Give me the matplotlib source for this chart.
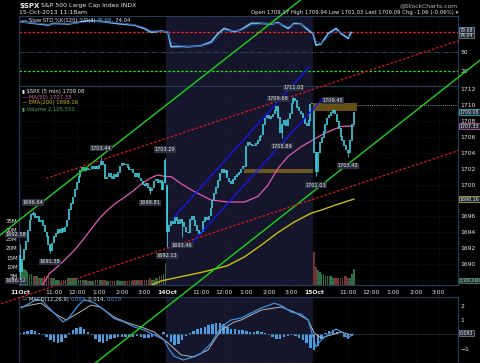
import numpy as np
import matplotlib
matplotlib.use("Agg")
import matplotlib.pyplot as plt
from matplotlib.patches import Rectangle

# ---- 5-min closes: 11 Oct, 14 Oct, 15 Oct (to 11:18am) ----
close_11 = [1689.0, 1690.5, 1691.8, 1692.8, 1694.2, 1695.5, 1696.2, 1696.4, 1695.8, 1695.9,
            1695.3, 1695.5, 1694.8, 1694.0, 1693.4, 1692.4, 1691.7, 1692.6, 1693.4, 1693.8,
            1694.3, 1693.9, 1694.4, 1694.0, 1694.6, 1695.5, 1696.8, 1697.6, 1698.4, 1699.3,
            1700.2, 1701.0, 1701.8, 1702.1, 1701.7, 1702.0, 1701.8, 1701.9, 1702.2, 1701.9,
            1702.3, 1702.0, 1702.4, 1702.9, 1702.5, 1700.7, 1700.9, 1701.4, 1701.0, 1700.7,
            1701.2, 1701.0, 1701.5, 1702.3, 1702.6, 1702.4, 1702.5, 1702.1, 1701.8, 1701.9,
            1701.4, 1701.0, 1701.4, 1700.8, 1700.4, 1700.0, 1699.8, 1700.1, 1699.6, 1699.2,
            1699.5, 1700.4, 1700.6, 1700.2, 1700.5, 1699.3, 1700.2, 1703.0]
close_14 = [1694.0, 1694.8, 1695.3, 1695.0, 1695.8, 1695.4, 1695.0, 1695.6, 1695.2, 1694.6,
            1694.0, 1693.9, 1695.6, 1695.9, 1695.5, 1694.8, 1694.2, 1693.8, 1694.0, 1695.3,
            1695.8, 1695.6, 1696.0, 1697.0, 1698.0, 1698.8, 1699.6, 1700.5, 1701.4, 1701.9,
            1701.5, 1701.8, 1700.8, 1700.3, 1700.1, 1700.6, 1701.0, 1701.2, 1701.5, 1701.9,
            1702.3, 1702.2, 1704.8, 1705.3, 1705.0, 1704.8, 1704.9, 1705.1, 1705.5, 1706.0,
            1706.2, 1707.5, 1708.3, 1708.6, 1708.2, 1708.5, 1708.8, 1709.3, 1709.8, 1708.4,
            1706.5, 1707.5, 1708.0, 1707.3, 1708.2, 1708.9, 1710.2, 1710.8, 1710.5, 1709.6,
            1709.2, 1708.9, 1708.3, 1707.6, 1707.4, 1708.0, 1710.1, 1710.15]
close_15 = [1704.0, 1701.6, 1704.0, 1705.2, 1705.9, 1706.6, 1707.5, 1708.3, 1708.6, 1709.0,
            1709.3, 1708.8, 1707.9, 1707.0, 1706.0, 1705.5, 1704.9, 1704.3, 1703.9, 1705.5,
            1707.5, 1709.08]
day_open = [1691.1, 1699.86, 1709.17]

volume_m = [20, 12, 9, 8, 7, 6, 6, 5, 5, 5, 4, 4, 4, 5, 5, 5, 4, 4, 4, 3, 3, 3, 3, 3, 3, 4,
            4, 4, 4, 4, 4, 3, 3, 3, 3, 3, 2, 2, 2, 2, 3, 3, 3, 3, 3, 3, 2, 2, 2, 2, 2, 2,
            3, 2, 2, 2, 2, 2, 2, 2, 3, 3, 3, 3, 3, 3, 3, 3, 3, 4, 3, 3, 4, 4, 5, 5, 6, 12,
            16, 10, 8, 7, 6, 6, 5, 5, 5, 4, 4, 4, 4, 4, 4, 4, 3, 3, 3, 3, 3, 3, 3, 3, 3, 3,
            3, 3, 3, 3, 3, 3, 3, 2, 2, 2, 2, 2, 2, 2, 2, 2, 3, 3, 3, 3, 3, 3, 3, 3, 3, 3,
            3, 3, 3, 3, 3, 3, 3, 4, 4, 4, 3, 3, 3, 3, 3, 3, 3, 4, 4, 4, 4, 5, 6, 7, 10, 14,
            18, 10, 8, 7, 6, 6, 5, 5, 5, 5, 4, 4, 4, 4, 4, 4, 5, 5, 4, 4, 6, 9]

# labelled extremes: (bar, price, above?)
ext_bar = [0, 0, 7, 16, 43, 69, 77, 78, 86, 137, 145, 139, 157, 166, 174]
ext_px = [1692.58, 1686.52, 1696.64, 1691.38, 1703.44, 1698.81, 1703.29, 1692.13, 1693.46,
          1709.68, 1711.03, 1705.89, 1701.03, 1709.45, 1703.43]
ext_up = [True, False, True, False, True, False, True, False, False,
          True, True, False, False, True, False]

ma50_bar = [12, 15.5, 20, 24.4, 29, 33.2, 38, 42.1, 46.5, 51, 56, 60.5, 65, 69, 73, 77,
            80.1, 85.4, 92.5, 101.3, 110.2, 119, 126.1, 131.4, 136.7, 142, 149.1, 155.3,
            159.7, 163.2, 170.3, 175.6, 177]
ma50_val = [1687.4, 1688.8, 1689.7, 1690.7, 1691.8, 1693.0, 1694.5, 1695.75, 1696.8, 1697.7,
            1698.5, 1699.3, 1700.2, 1700.8, 1701.2, 1701.0, 1701.0, 1700.1, 1699.1, 1698.05,
            1697.8, 1697.8, 1698.5, 1699.9, 1702.0, 1703.5, 1704.75, 1705.6, 1706.2, 1706.6,
            1707.3, 1707.35, 1707.33]
ema200_bar = [70, 75, 85, 97, 110, 119, 128, 137, 145.5, 154.4, 160, 167, 177]
ema200_val = [1687.4, 1687.9, 1688.4, 1689.0, 1689.8, 1690.9, 1692.4, 1694.0, 1695.3, 1696.4,
              1696.8, 1697.4, 1698.16]

sto_bar = [0.5, 7.4, 14.9, 18, 25.5, 36.1, 43, 53.6, 60.5, 65.8, 69.5, 74.8, 78.5, 80.1, 85.4,
           89.1, 96, 101.3, 105, 108.2, 113.5, 117.2, 122.5, 127.9, 133.2, 136.9, 142.2,
           145.4, 149.1, 152.8, 155.4, 157, 159.7, 163.4, 167.6, 170.3, 174, 175.6]
sto_k = [96.6, 94, 91.4, 94, 93, 98, 97, 93, 91.4, 86, 80, 82, 80, 57.5, 58, 57.5, 59, 65,
         78, 86, 81, 84, 94, 94, 93, 95, 86, 94, 93, 83.6, 78, 60, 62, 78, 86, 78, 70.6, 79.7]
sto_d = [96.0, 94.5, 92.5, 93.0, 93.5, 96.5, 97.0, 94.5, 92.0, 88.0, 82.5, 81.5, 80.5, 65.0,
         59.0, 58.0, 58.5, 62.0, 72.0, 82.0, 82.5, 83.0, 90.0, 93.5, 93.5, 94.0, 89.0, 92.0,
         93.0, 86.5, 80.0, 67.0, 62.5, 72.0, 82.0, 80.0, 73.0, 74.0]

macd_bar = [0.5, 8.5, 11.1, 16.4, 22.8, 25.5, 30.8, 33.9, 39.2, 44.6, 49.9, 55.2, 60.5, 65.8,
            71.1, 76.4, 78.5, 81.7, 86.5, 90.7, 96, 101.3, 106.6, 111.9, 117.2, 127.9, 134.8,
            138.5, 143.8, 149.1, 152.8, 155.4, 157, 159.7, 163.4, 167.6, 171.4, 174, 176.6]
macd_val = [1.83, 2.4, 2.4, 1.7, 0.86, 1.1, 2.0, 2.4, 2.2, 1.7, 1.1, 0.86, 0.52, 0.31, -0.03,
            -0.38, -0.9, -1.5, -1.76, -1.6, -1.3, -0.6, 0.52, 1.0, 1.14, 1.83, 2.16, 2.0, 1.55,
            1.4, 1.0, -0.17, -0.86, -0.38, 0.0, 0.38, 0.1, -0.24, 0.03]
sig_bar = [0.5, 11.1, 18, 24.4, 30.8, 37.7, 42.4, 49.9, 57.3, 64.2, 71.1, 78.5, 85.4, 92.3,
           99.7, 106.6, 113.5, 117.2, 127.9, 138.5, 145.4, 152.8, 156, 159.7, 165, 170.3, 175.6]
sig_val = [1.9, 2.17, 1.48, 1.0, 1.48, 2.03, 1.9, 1.2, 0.79, 0.52, 0.17, -0.59, -1.41, -1.55,
           -1.07, 0.31, 0.86, 1.0, 1.69, 1.9, 1.55, 1.0, 0.1, -0.24, -0.03, 0.17, -0.03]
hist_val = [0.10, 0.15, 0.22, 0.28, 0.25, 0.12, -0.05, -0.20, -0.38, -0.52, -0.60, -0.50, -0.25,
            0.10, 0.30, 0.45, 0.50, 0.40, 0.20, -0.05, -0.30, -0.55, -0.60, -0.45, -0.30, -0.25,
            -0.20, -0.15, -0.18, -0.20, -0.15, -0.12, -0.20, -0.25, -0.25, -0.15, -0.10, 0.05,
            0.20, -0.20, -0.50, -0.70, -0.65, -0.40, -0.10, 0.10, 0.25, 0.35, 0.45, 0.55, 0.65,
            0.75, 0.80, 0.80, 0.70, 0.55, 0.40, 0.35, 0.30, 0.30, 0.25, 0.20, 0.20, 0.25, 0.20,
            0.10, -0.05, -0.20, -0.30, -0.30, -0.20, -0.10, -0.05, -0.10, -0.25, -0.40, -0.60,
            -0.90, -1.10, -0.80, -0.30, 0.10, 0.25, 0.30, 0.20, 0.05, -0.20, -0.30, -0.10]

# hand-drawn trendlines: (bar0, price0, bar1, price1)
green_hi = (-12, 1693.4, 165, 1726.2)
green_lo = (38, 1677.2, 246, 1716.0)
red_hi = (13.8, 1700.76, 232.9, 1718.1)
red_lo = (-10.1, 1685.0, 232.9, 1704.3)
blue_hi = (81.7, 1695.92, 153.3, 1714.76)
blue_lo = (89.7, 1692.28, 160.6, 1710.83)
zones = [(118.8, 155.4, 1701.45, 1701.95), (155.4, 178.5, 1709.2, 1710.2)]

hour_lbl = ["11:00", "12:00", "1:00", "2:00", "3:00"]
day_lbl = ["11Oct", "14Oct", "15Oct"]

BG = "#000000"
SHADE = "#15152b"
TXT = "#e8e8e8"
SPINE = "#233a5a"
CYAN = "#3ccfe0"

closes = np.array(close_11 + close_14 + close_15)
n = len(closes)
bars = np.arange(n)
opens = np.r_[closes[0], closes[:-1]]
opens[[0, 78, 156]] = day_open
W, H = 480, 363


def rect(x0, y0, x1, y1):
    return [x0 / W, 1 - y1 / H, (x1 - x0) / W, (y1 - y0) / H]


def side_box(a, v, t, ec, fs=3.4):
    a.text(1.004, v, t, transform=a.get_yaxis_transform(), color=TXT, fontsize=fs,
           va="center", ha="left", zorder=7,
           bbox=dict(boxstyle="square,pad=0.1", fc="#20283a", ec=ec, lw=0.5))


def chain_text(a, x, y, parts, fs=3.8):
    # coloured pieces written one after another on a line
    prev = a.text(x, y, parts[0][0], color=parts[0][1], fontsize=fs, transform=a.transAxes,
                  va="top")
    for t, c in parts[1:]:
        prev = a.annotate(t, xy=(1, 0), xycoords=prev, va="bottom", color=c, fontsize=fs)


fig = plt.figure(figsize=(4.8, 3.63), dpi=100, facecolor=BG)
ax_sto = fig.add_axes(rect(19, 16, 458, 86))
ax = fig.add_axes(rect(19, 86, 458, 285))
ax_macd = fig.add_axes(rect(19, 297, 458, 363))
vol = ax.twinx()
ax_sto.set_zorder(1)
ax_macd.set_zorder(1)
vol.set_zorder(2)
ax.set_zorder(3)

XL = (-0.6, 232.3)
tick_pos = []
for d in range(3):
    tick_pos += [78 * d] + [78 * d + h for h in (18, 30, 42, 54, 66)]

for a in (ax_sto, ax, ax_macd, vol):
    a.set_facecolor("none")
    a.set_xlim(*XL)
    for s in a.spines.values():
        s.set_color(SPINE)
        s.set_linewidth(0.8)
    a.tick_params(colors=TXT, labelsize=4.3, length=0, pad=2)
for a in (ax_sto, ax, ax_macd):
    a.axvspan(77.5, 155.5, color=SHADE, zorder=0, lw=0)
    for t in tick_pos:
        a.axvline(t, color="#2c2c3c", lw=0.4, ls=(0, (1, 2)), zorder=0.5)
    a.yaxis.tick_right()
    a.set_xticks([])

# ---- STO panel ----
ax_sto.set_ylim(-3.9, 105.5)
ax_sto.axhline(80, color="#ff2020", lw=0.9, ls=(0, (2, 1.5)))
ax_sto.axhline(50, color="#34486a", lw=0.6, ls="-.")
ax_sto.axhline(20, color="#22e022", lw=0.9, ls=(0, (2, 1.5)))
ax_sto.plot(sto_bar, sto_k, color="#6bb6e8", lw=1.3)
ax_sto.plot(sto_bar, sto_d, color="#1d3f86", lw=0.6)
ax_sto.set_yticks([20, 50])
chain_text(ax_sto, 0.006, 0.97, [("\u2014 Slow STO %K(120) %D(3) ", TXT),
                                 ("79.68", "#6bb6e8"), (", 74.04", TXT)])
side_box(ax_sto, 83.0, "79.68", "#6bb6e8")
side_box(ax_sto, 75.0, "74.04", "#888888")

# ---- price panel ----
ax.set_ylim(1687.37, 1712.38)
pticks = np.arange(1688, 1713, 2)
ax.set_yticks(pticks)
ax.set_yticklabels(["" if p in (1688, 1698) else str(p) for p in pticks])
for p in pticks:
    ax.axhline(p, color="#2c2c3c", lw=0.4, ls=(0, (1, 2)), zorder=0.5)

vol.set_ylim(0, 109)
vol.yaxis.tick_left()
vol.set_yticks([5, 10, 15, 20, 25, 30, 35])
vol.set_yticklabels(["5M", "10M", "15M", "20M", "25M", "30M", "35M"])
vol.tick_params(axis="y", labelsize=4, pad=1)
up = closes >= opens
vcol = np.where(up, "#2f6e40", "#7a3434")
vol.bar(bars, volume_m, width=0.8, color=vcol, lw=0)

ax.plot(ema200_bar, ema200_val, color="#c8c010", lw=1.0, zorder=3)
ax.plot(ma50_bar, ma50_val, color="#e05cb4", lw=0.9, zorder=3)

for lo, hi, y0, y1 in zones:
    ax.add_patch(Rectangle((lo, y0), hi - lo, y1 - y0, fc="#8a6c1c", ec="none", alpha=0.75,
                           zorder=2))
ax.hlines(1710, 178.5, XL[1], color="#aaaaaa", lw=0.6, ls=(0, (1, 1.5)), zorder=2)

lo_body = np.minimum(opens, closes)
hi_body = np.maximum(opens, closes)
ax.vlines(bars, lo_body, hi_body + 0.08, color=CYAN, lw=1.2, zorder=4)
for b, p in zip(ext_bar, ext_px):
    ax.vlines(b, min(p, lo_body[b]), max(p, hi_body[b]), color=CYAN, lw=0.6, zorder=4)

for b, p, u in zip(ext_bar, ext_px, ext_up):
    if p < 1688.5:
        ax.annotate(f"{p:.2f}", (b, 1687.6), xytext=(-3, 0), textcoords="offset points",
                    ha="center", va="bottom", color=TXT, fontsize=3.6,
                    bbox=dict(boxstyle="square,pad=0.12", fc="#2b3140", ec="none"), zorder=6,
                    annotation_clip=False)
        continue
    ax.annotate(f"{p:.2f}", (b, p), xytext=(-3 if b == 0 else 0, 4.5 if u else -4.5),
                textcoords="offset points", ha="center", va="bottom" if u else "top",
                color=TXT, fontsize=3.6,
                bbox=dict(boxstyle="square,pad=0.12", fc="#2b3140", ec="none"), zorder=6,
                annotation_clip=False)

# trend lines (cross panels)
for (b0, p0, b1, p1), c, ls, lw in ((green_hi, "#19d419", "-", 1.0),
                                    (green_lo, "#19d419", "-", 1.0),
                                    (red_hi, "#e01818", (0, (2, 1.5)), 0.9),
                                    (red_lo, "#e01818", (0, (2, 1.5)), 0.9),
                                    (blue_hi, "#1616ff", "-", 0.9),
                                    (blue_lo, "#1616ff", "-", 0.9)):
    ax.plot([b0, b1], [p0, p1], color=c, ls=ls, lw=lw, clip_on=False, zorder=5)

# legend block
leg = [("\u25ae $SPX (5 min) 1709.08", TXT), ("\u2014 MA(50) 1707.33", "#e05cb4"),
       ("\u2014 EMA(200) 1698.16", "#c8c010"), ("\u25ae Volume 2,105,550", "#3fae5a")]
for i, (t, c) in enumerate(leg):
    ax.text(0.006, 0.985 - i * 0.028, t, color=c, fontsize=3.8, transform=ax.transAxes,
            va="top")

side_box(ax, 1709.08, "1709.08", CYAN)
side_box(ax, 1707.33, "1707.33", "#e05cb4")
side_box(ax, 1698.16, "1698.16", "#c8c010")
side_box(ax, 1687.9, "2,105,550", "#3fae5a", fs=3.0)

# date axis
for d in range(3):
    ax.text(78 * d, -0.025, day_lbl[d], transform=ax.get_xaxis_transform(), color=TXT,
            fontsize=4.3, fontweight="bold", ha="center", va="top")
    for h, lab in zip((18, 30, 42, 54, 66), hour_lbl):
        ax.text(78 * d + h, -0.025, lab, transform=ax.get_xaxis_transform(), color=TXT,
                fontsize=4.3, ha="center", va="top")

# ---- MACD panel ----
ax_macd.set_ylim(-1.97, 2.59)
ax_macd.set_yticks([-1, 1, 2])
ax_macd.axhline(0, color="#3a3a4a", lw=0.4)
hb = np.arange(0, n, 2)
ax_macd.bar(hb, hist_val, width=1.3, color="#4a9ee0", lw=0)
ax_macd.plot(sig_bar, sig_val, color="#b8b8b8", lw=0.7)
ax_macd.plot(macd_bar, macd_val, color="#3d8fe0", lw=0.9)
side_box(ax_macd, 0.093, "0.093", "#888888")
chain_text(ax_macd, 0.006, 1.0, [("\u2014 MACD(12,26,9) ", TXT), ("0.093", "#4a9ee0"),
                                 (", 0.014, ", TXT), ("0.079", "#4a9ee0")])

# ---- header ----
fig.text(19 / W, 1 - 3 / H, "$SPX", color=TXT, fontsize=5.0, fontweight="bold", va="top")
fig.text(41 / W, 1 - 3 / H, "S&P 500 Large Cap Index INDX", color=TXT, fontsize=4.4, va="top")
fig.text(19 / W, 1 - 10 / H, "15-Oct-2013 11:18am", color=TXT, fontsize=4.4, va="top")
fig.text(458 / W, 1 - 3 / H, "@StockCharts.com", color="#bbbbbb", fontsize=4.4, va="top",
         ha="right")
fig.text(458 / W, 1 - 10 / H,
         "Open 1709.17 High 1709.94 Low 1701.03 Last 1709.09 Chg -1.06 (-0.06%) \u25be",
         color=TXT, fontsize=3.9, va="top", ha="right")

fig.savefig("out.png", dpi=100, facecolor=BG)
